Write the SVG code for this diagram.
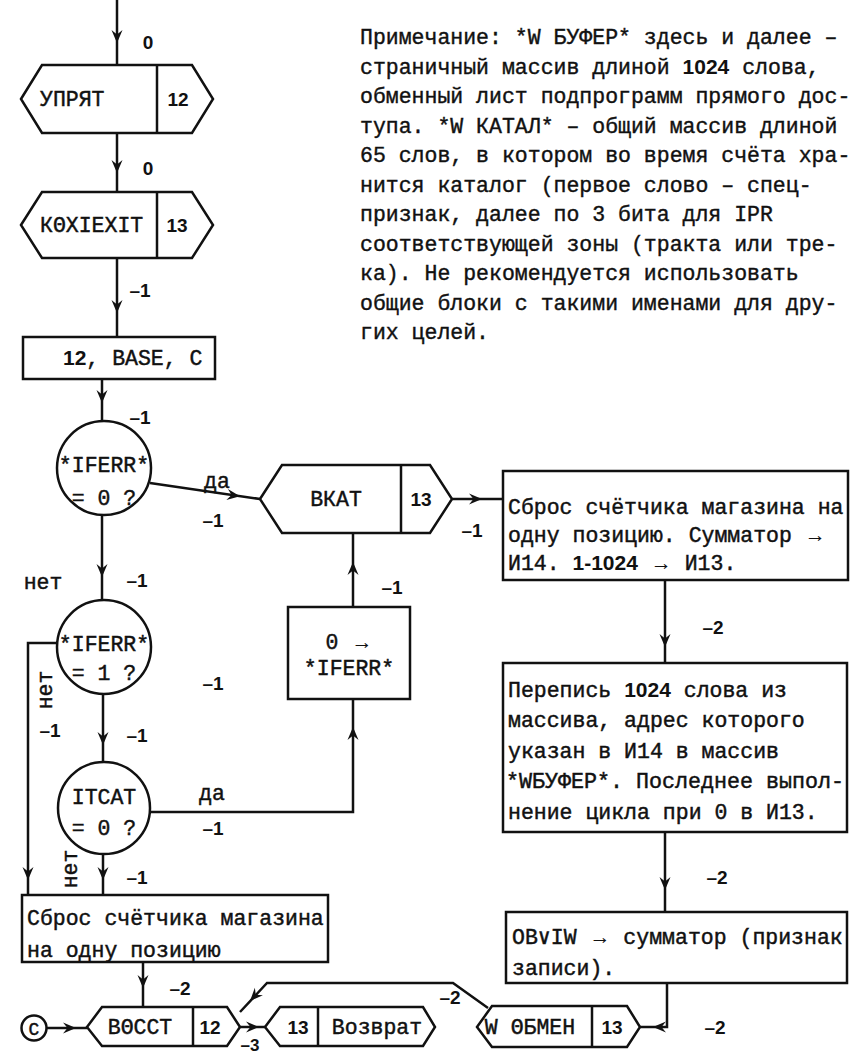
<svg xmlns="http://www.w3.org/2000/svg" width="859" height="1053" viewBox="0 0 859 1053">
<style>
.ln{fill:none;stroke:#111;stroke-width:2.5}
.sh{fill:#fff;stroke:#111;stroke-width:2.5}
.t{font-family:"Liberation Mono","DejaVu Sans Mono",monospace;font-size:21.5px;fill:#111;stroke:#111;stroke-width:0.45}
.n{font-family:"Liberation Sans",Arial,sans-serif;font-size:19px;font-weight:bold;fill:#111;stroke:none}
.d{font-family:"Liberation Sans",Arial,sans-serif;font-size:21px;font-weight:bold;stroke:none}
.c{text-anchor:middle}
.note{font-family:"Liberation Mono","DejaVu Sans Mono",monospace;font-size:21.5px;fill:#111;stroke:#111;stroke-width:0.4}
</style>
<defs>
<path id="ah" d="M0,0 L-5.5,-13 L0,-8.5 L5.5,-13 Z" fill="#111"/>
</defs>
<rect width="859" height="1053" fill="#fff"/>

<g id="connectors">
<path class="ln" d="M117,0 V65"/><use href="#ah" transform="translate(117,43)"/>
<path class="ln" d="M117,133 V192"/><use href="#ah" transform="translate(117,173)"/>
<path class="ln" d="M117,258 V337"/><use href="#ah" transform="translate(117,313)"/>
<path class="ln" d="M102,379 V422"/><use href="#ah" transform="translate(102,403)"/>
<path class="ln" d="M150,483 L260,499"/><use href="#ah" transform="translate(240,496.3) rotate(-82)"/>
<path class="ln" d="M102,515 V600"/><use href="#ah" transform="translate(102,577)"/>
<path class="ln" d="M58,643 H28 V895"/><use href="#ah" transform="translate(28,880)"/>
<path class="ln" d="M103,694 V762"/><use href="#ah" transform="translate(103,745)"/>
<path class="ln" d="M150,812 H353 V699"/><use href="#ah" transform="translate(353,727) rotate(180)"/>
<path class="ln" d="M103,854 V895"/><use href="#ah" transform="translate(103,880)"/>
<path class="ln" d="M353,607 V533"/><use href="#ah" transform="translate(353,562) rotate(180)"/>
<path class="ln" d="M452,499 H503"/><use href="#ah" transform="translate(482,499) rotate(-90)"/>
<path class="ln" d="M665,580 V663"/><use href="#ah" transform="translate(665,647)"/>
<path class="ln" d="M665,832 V912"/><use href="#ah" transform="translate(665,890)"/>
<path class="ln" d="M667,983 V1027 H640"/><use href="#ah" transform="translate(653,1027) rotate(90)"/>
<path class="ln" d="M488,1008 L453,983 H267 L240,1012"/><use href="#ah" transform="translate(250,1001) rotate(43)"/>
<path class="ln" d="M143,962 V1007"/><use href="#ah" transform="translate(143,988)"/>
<path class="ln" d="M47,1028 H87"/><use href="#ah" transform="translate(76,1028) rotate(-90)"/>
<path class="ln" d="M240,1027 H265"/><use href="#ah" transform="translate(259,1027) rotate(-90)"/>
</g>

<g id="labels">
<text class="n c" x="148" y="49">0</text>
<text class="n c" x="148" y="175">0</text>
<text class="n c" x="140" y="297">–1</text>
<text class="n c" x="140" y="424">–1</text>
<text class="t c" x="217" y="488">да</text>
<text class="n c" x="213" y="527">–1</text>
<text class="t c" x="43" y="589">нет</text>
<text class="n c" x="137" y="587">–1</text>
<text class="t c" transform="translate(45,690) rotate(-90)" x="0" y="7">нет</text>
<text class="n c" x="50" y="737">–1</text>
<text class="n c" x="137" y="742">–1</text>
<text class="n c" x="213" y="690">–1</text>
<text class="t c" x="212" y="800">да</text>
<text class="n c" x="213" y="835">–1</text>
<text class="t c" transform="translate(70,869) rotate(-90)" x="0" y="7">нет</text>
<text class="n c" x="137" y="884">–1</text>
<text class="n c" x="180" y="995">–2</text>
<text class="n c" x="250" y="1051" style="font-size:17px">–3</text>
<text class="n c" x="450" y="1004">–2</text>
<text class="n c" x="715" y="1034">–2</text>
<text class="n c" x="472" y="537">–1</text>
<text class="n c" x="392" y="594">–1</text>
<text class="n c" x="713" y="634">–2</text>
<text class="n c" x="717" y="884">–2</text>
</g>

<g id="n-uprjat">
<polygon class="sh" points="21,99 42,65 192,65 213,99 192,133 42,133"/>
<path class="ln" d="M157,65 V133"/>
<text class="t" x="40" y="106">УПРЯТ</text>
<text class="n c" x="178" y="106">12</text>
</g>
<g id="n-kexit">
<polygon class="sh" points="21,225 42,192 192,192 213,225 192,258 42,258"/>
<path class="ln" d="M157,192 V258"/>
<text class="t" x="40" y="232">КΘXIEXIT</text>
<text class="n c" x="177" y="232">13</text>
</g>
<g id="n-base">
<rect class="sh" x="23" y="337" width="192" height="42"/>
<text class="t" x="63" y="365"><tspan class="d">12</tspan>, BASE, C</text>
</g>
<g id="n-if0">
<circle class="sh" cx="104" cy="468" r="47"/>
<text class="t c" x="104" y="472">*IFERR*</text>
<text class="t c" x="104" y="505">= 0 ?</text>
</g>
<g id="n-if1">
<circle class="sh" cx="104" cy="647" r="47"/>
<text class="t c" x="104" y="651">*IFERR*</text>
<text class="t c" x="104" y="680">= 1 ?</text>
</g>
<g id="n-itcat">
<circle class="sh" cx="104" cy="808" r="46"/>
<text class="t c" x="104" y="804">ITCAT</text>
<text class="t c" x="104" y="835">= 0 ?</text>
</g>
<g id="n-reset1">
<rect class="sh" x="22" y="895" width="306" height="67"/>
<text class="t" x="27" y="925">Сброс счётчика магазина</text>
<text class="t" x="27" y="957">на одну позицию</text>
</g>
<g id="n-c">
<circle class="sh" cx="34" cy="1028" r="12.5"/>
<text class="t c" x="34" y="1035" style="font-size:18px">C</text>
</g>
<g id="n-vosst">
<polygon class="sh" points="87,1027 102,1007 227,1007 240,1027 227,1046 102,1046"/>
<path class="ln" d="M193,1007 V1046"/>
<text class="t c" x="140" y="1034">ВΘССТ</text>
<text class="n c" x="210" y="1034">12</text>
</g>
<g id="n-vozvrat">
<polygon class="sh" points="265,1027 280,1007 423,1007 435,1027 423,1046 280,1046"/>
<path class="ln" d="M318,1007 V1046"/>
<text class="n c" x="298" y="1034">13</text>
<text class="t c" x="377" y="1034">Возврат</text>
</g>
<g id="n-obmen">
<polygon class="sh" points="477,1027 492,1006 627,1006 640,1027 627,1047 492,1047"/>
<path class="ln" d="M592,1006 V1047"/>
<text class="t c" x="530" y="1034">W ΘБМЕН</text>
<text class="n c" x="612" y="1034">13</text>
</g>
<g id="n-bkat">
<polygon class="sh" points="260,499 282,465 430,465 452,499 430,533 282,533"/>
<path class="ln" d="M401,465 V533"/>
<text class="t c" x="336" y="506">ВКАТ</text>
<text class="n c" x="421" y="506">13</text>
</g>
<g id="n-zero">
<rect class="sh" x="288" y="607" width="122" height="92"/>
<text class="t c" x="349" y="649">0 <tspan class="d">→</tspan></text>
<text class="t c" x="349" y="675">*IFERR*</text>
</g>
<g id="n-box1">
<rect class="sh" x="503" y="471" width="345" height="109"/>
<text class="t" x="508" y="514">Сброс счётчика магазина на</text>
<text class="t" x="508" y="542">одну позицию. Сумматор <tspan class="d">→</tspan></text>
<text class="t" x="508" y="570">И14. <tspan class="d">1-1024</tspan> <tspan class="d">→</tspan> И13.</text>
</g>
<g id="n-box2">
<rect class="sh" x="503" y="663" width="344" height="169"/>
<text class="t" x="508" y="697">Перепись <tspan class="d">1024</tspan>  слова из</text>
<text class="t" x="508" y="727">массива, адрес которого</text>
<text class="t" x="508" y="758">указан в И14  в массив</text>
<text class="t" x="506" y="788" textLength="338" lengthAdjust="spacingAndGlyphs">*WБУФЕР*.  Последнее выпол-</text>
<text class="t" x="508" y="819">нение цикла при 0 в И13.</text>
</g>
<g id="n-box3">
<rect class="sh" x="506" y="912" width="341" height="71"/>
<text class="t" x="512" y="944">OB∨IW <tspan class="d">→</tspan> сумматор (признак</text>
<text class="t" x="512" y="975">записи).</text>
</g>
<g id="note">
<text class="note" x="360" y="44">Примечание: *W БУФЕР* здесь и далее –</text>
<text class="note" x="360" y="73.5">страничный массив длиной <tspan class="d">1024</tspan>  слова,</text>
<text class="note" x="360" y="103">обменный лист подпрограмм прямого дос-</text>
<text class="note" x="360" y="132.5">тупа. *W КАТАЛ* – общий массив длиной</text>
<text class="note" x="360" y="162">65 слов, в котором во время счёта хра-</text>
<text class="note" x="360" y="191.5">нится каталог (первое слово – спец-</text>
<text class="note" x="360" y="221">признак, далее по 3 бита для IPR</text>
<text class="note" x="360" y="250.5">соответствующей зоны (тракта или тре-</text>
<text class="note" x="360" y="280">ка). Не рекомендуется использовать</text>
<text class="note" x="360" y="309.5">общие блоки с такими  именами для дру-</text>
<text class="note" x="360" y="339">гих целей.</text>
</g>
</svg>
